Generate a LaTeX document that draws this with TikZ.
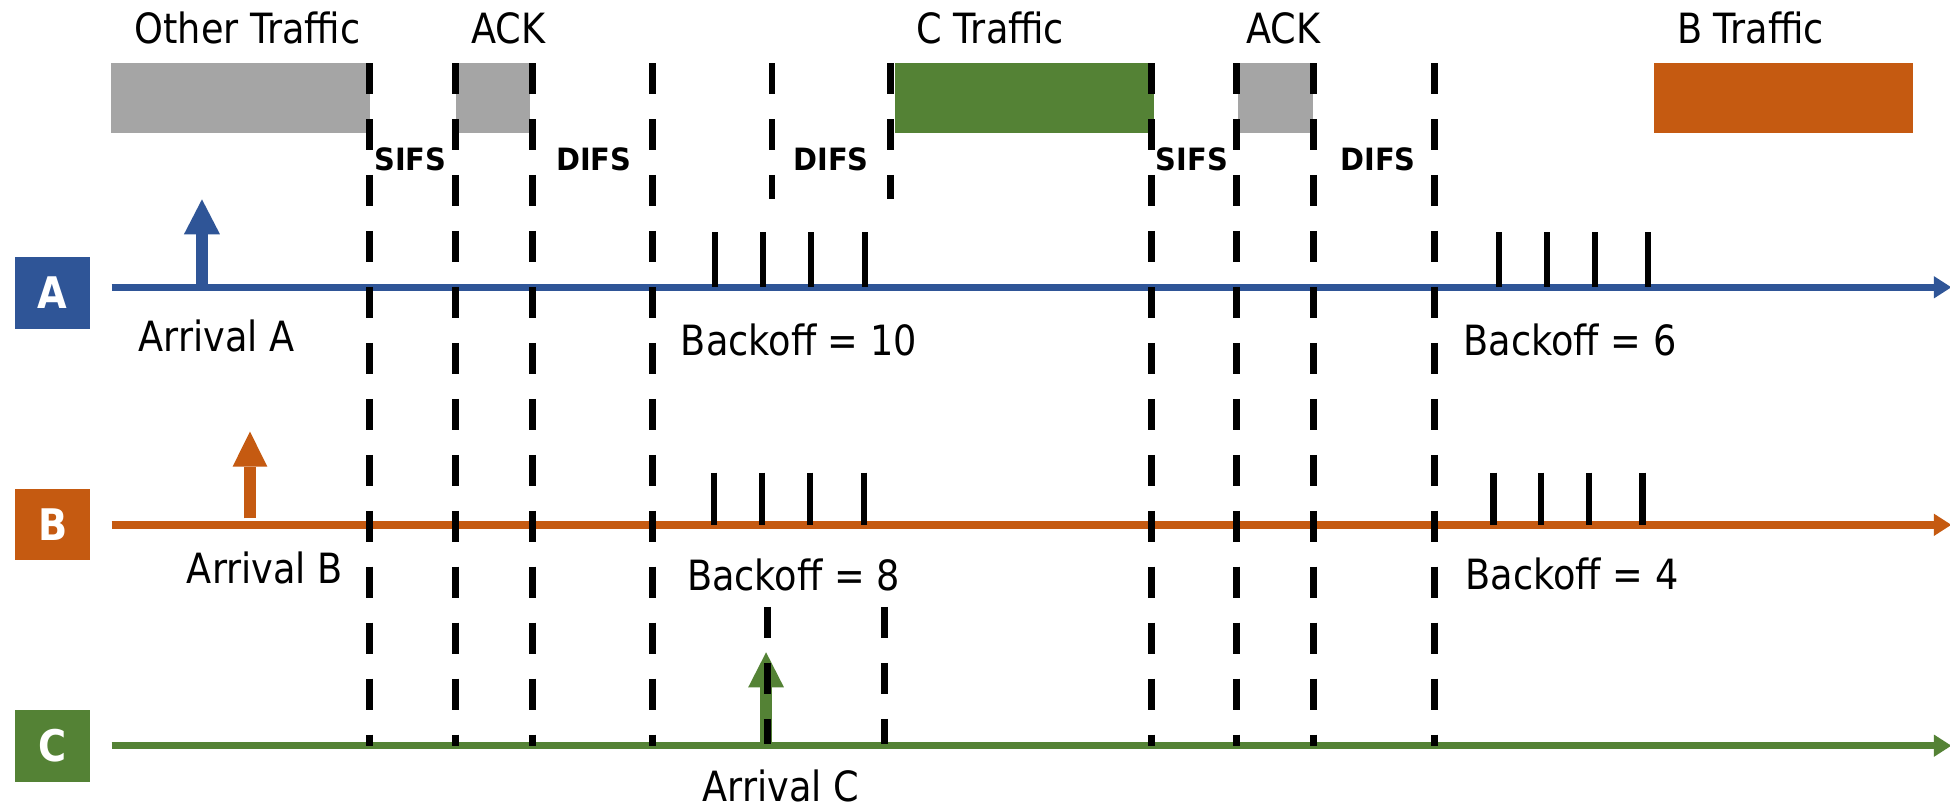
\documentclass[tikz,border=0pt]{standalone}
\usepackage{fontspec}
\setmainfont{DejaVu Sans}[FakeStretch=0.88]
\newfontfamily\lblfont{DejaVu Sans}[FakeStretch=0.94]
\definecolor{blueA}{HTML}{2F5597}
\definecolor{orangeB}{HTML}{C55A11}
\definecolor{greenC}{HTML}{548235}
\definecolor{grayT}{HTML}{A5A5A5}
\begin{document}
\begin{tikzpicture}[x=1pt,y=-1pt,
  txt/.style={font=\fontsize{33.5}{40}\selectfont, inner sep=0pt, anchor=base},
  ifs/.style={font=\lblfont\bfseries\fontsize{24.7}{30}\selectfont, inner sep=0pt, anchor=base},
  letterbox/.style={minimum width=60.3pt, minimum height=57.4pt, inner sep=0pt, text=white,
    font=\bfseries\fontsize{35}{40}\selectfont},
  pkt/.style={inner sep=0pt, minimum height=56pt, anchor=north west},
  tline/.style={line width=6pt},
  shaft/.style={line width=9.6pt},
  dsh/.style={line width=5.5pt, dash pattern=on 25.2pt off 19.8pt},
  tickmark/.style={line width=5pt}]
\useasboundingbox (0,0) rectangle (1568,649);
\fill[white] (0,0) rectangle (1568,649);

% traffic boxes
\node[pkt, fill=grayT, minimum width=208pt] (ot) at (89,50.7) {};
\node[pkt, fill=grayT, minimum width=59.9pt] (ack1) at (366.1,50.7) {};
\node[pkt, fill=greenC, minimum width=208pt] (ct) at (719.6,50.7) {};
\node[pkt, fill=grayT, minimum width=60.3pt] (ack2) at (995.3,50.7) {};
\node[pkt, fill=orangeB, minimum width=208.4pt] (bt) at (1329.7,50.7) {};

% top labels
\node[txt] (lot) at (199,34.9) {Other Traffic};
\node[txt] (lack1) at (408.7,34.9) {ACK};
\node[txt] (lct) at (796.4,34.9) {C Traffic};
\node[txt] (lack2) at (1032,34.9) {ACK};
\node[txt] (lbt) at (1407.6,34.9) {B Traffic};

% station labels
\node[letterbox, fill=blueA] (sA) at (42.25,235.6) {A};
\node[letterbox, fill=orangeB] (sB) at (42.3,421.5) {B};
\node[letterbox, fill=greenC] (sC) at (42.3,599.8) {C};

% timelines
\coordinate (A0) at (89.8,231);   \coordinate (A1) at (1555,231);
\coordinate (B0) at (89.8,422);   \coordinate (B1) at (1555,422);
\coordinate (C0) at (89.8,599.6); \coordinate (C1) at (1555,599.6);
\draw[tline, blueA] (A0) -- (A1);
\fill[blueA] (A1) ++(0,-9) -- ++(14,9) -- ++(-14,9) -- cycle;
\draw[tline, orangeB] (B0) -- (B1);
\fill[orangeB] (B1) ++(0,-9) -- ++(14,9) -- ++(-14,9) -- cycle;
\draw[tline, greenC] (C0) -- (C1);
\fill[greenC] (C1) ++(0,-9) -- ++(14,9) -- ++(-14,9) -- cycle;

% arrivals
\coordinate (aA0) at (162.4,229); \coordinate (aA1) at (162.4,188.4);
\draw[shaft, blueA] (aA0) -- (aA1);
\fill[blueA] (aA1) ++(-14.5,0) -- ++(14.5,-28.1) -- ++(14.5,28.1) -- cycle;
\coordinate (aB0) at (201,416.8); \coordinate (aB1) at (201,375.3);
\draw[shaft, orangeB] (aB0) -- (aB1);
\fill[orangeB] (aB1) ++(-14,0) -- ++(14,-28.3) -- ++(14,28.3) -- cycle;
\coordinate (aC0) at (616,597); \coordinate (aC1) at (616,552.7);
\draw[shaft, greenC] (aC0) -- (aC1);
\fill[greenC] (aC1) ++(-14.4,0) -- ++(14.4,-28.2) -- ++(14.4,28.2) -- cycle;

% long dashed lines
\foreach \x in {297.3,366.3,428,525,925.8,994.2,1056.5,1153.4}
  \draw[dsh] (\x,50.7) -- (\x,600);
% short dashed lines
\foreach \x in {620.8,715.9}
  \draw[dsh] (\x,50.7) -- (\x,160);
\foreach \x in {617,711.5}
  \draw[dsh] (\x,488) -- (\x,598);

% backoff slot ticks
\foreach \x in {575.2,613.8,652.3,695.4,1205.4,1243.7,1282.4,1325.4}
  \draw[tickmark] (\x,186.8) -- (\x,231);
\foreach \x in {574,612.6,651,694.5,1200.9,1239.3,1277.7,1320.8}
  \draw[tickmark] (\x,380) -- (\x,422);

% interframe space labels
\node[ifs] (s1) at (330,137.3) {SIFS};
\node[ifs] (d1) at (477.4,137.3) {DIFS};
\node[ifs] (d2) at (668.3,137.3) {DIFS};
\node[ifs] (s2) at (958.4,137.3) {SIFS};
\node[ifs] (d3) at (1108,137.3) {DIFS};

% row labels
\node[txt] (arrA) at (174.2,282.8) {Arrival A};
\node[txt] (bo10) at (642.4,285.5) {Backoff = 10};
\node[txt] (bo6) at (1262.5,285.5) {Backoff = 6};
\node[txt] (arrB) at (213,468.8) {Arrival B};
\node[txt] (bo8) at (638,475) {Backoff = 8};
\node[txt] (bo4) at (1264,474) {Backoff = 4};
\node[txt] (arrC) at (628,644.5) {Arrival C};
\end{tikzpicture}
\end{document}
